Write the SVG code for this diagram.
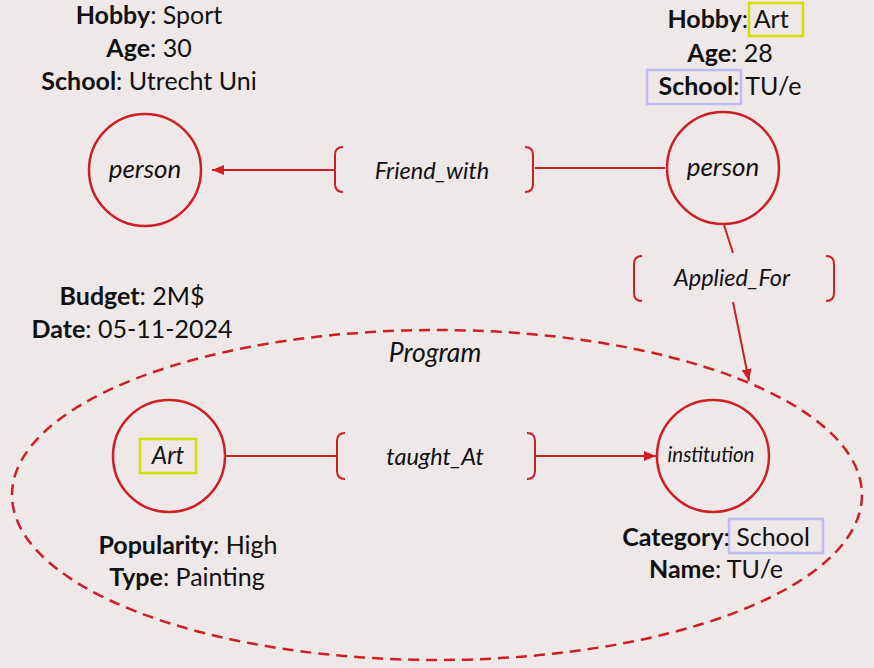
<svg xmlns="http://www.w3.org/2000/svg" width="874" height="668" viewBox="0 0 874 668">
  <defs>
    <marker id="arrow" viewBox="0 0 12 10" refX="12" refY="5" markerWidth="12" markerHeight="10" markerUnits="userSpaceOnUse" orient="auto">
      <path d="M0 0 L12 5 L0 10 Z" fill="#CC1F26"/>
    </marker>
    <style>
      text { font-family: "Lato", "Liberation Sans", sans-serif; fill: #111; }
      .attr { font-size: 25px; text-anchor: middle; }
      .attr tspan.k { font-weight: bold; }
      .lbl { font-size: 23.5px; font-style: italic; text-anchor: middle; }
      .big { font-size: 26px; }
      .small { font-size: 20.5px; }
      .node { fill: none; stroke: #CC1F26; stroke-width: 2.5; }
      .edge { fill: none; stroke: #CC1F26; stroke-width: 2; }
      .brk { fill: none; stroke: #CC1F26; stroke-width: 2; }
      .hl-y { fill: none; stroke: #D4E000; stroke-width: 2.5; }
      .hl-b { fill: none; stroke: #BDBDF2; stroke-width: 2.5; }
    </style>
  </defs>

  <rect width="874" height="668" fill="#EEE8E8"/>

  <!-- Program group boundary -->
  <g id="program">
    <ellipse cx="437" cy="495" rx="425" ry="165" fill="none" stroke="#CC1F26" stroke-width="2.5" stroke-dasharray="11 7"/>
    <text class="lbl" x="435" y="362" style="font-size:26.5px">Program</text>
    <text class="attr" x="132" y="305"><tspan class="k">Budget</tspan>: 2M$</text>
    <text class="attr" x="132" y="338"><tspan class="k">Date</tspan>: 05-11-2024</text>
  </g>

  <!-- Connectors -->
  <g id="connectors">
    <!-- Friend_with -->
    <line class="edge" x1="665" y1="168" x2="535" y2="168"/>
    <path class="brk" d="M343 147 Q335 147 335 155 V184 Q335 192 343 192"/>
    <path class="brk" d="M525 147 Q533 147 533 155 V184 Q533 192 525 192"/>
    <line class="edge" x1="334" y1="170" x2="212" y2="170" marker-end="url(#arrow)"/>
    <text class="lbl" x="432" y="179">Friend_with</text>

    <!-- Applied_For -->
    <line class="edge" x1="724" y1="225" x2="733" y2="253"/>
    <path class="brk" d="M642 256 Q634 256 634 264 V293 Q634 301 642 301"/>
    <path class="brk" d="M826 256 Q834 256 834 264 V293 Q834 301 826 301"/>
    <line class="edge" x1="733" y1="302" x2="749" y2="381" marker-end="url(#arrow)"/>
    <text class="lbl" x="732" y="286">Applied_For</text>

    <!-- taught_At -->
    <line class="edge" x1="226" y1="456" x2="337" y2="456"/>
    <path class="brk" d="M345 433 Q337 433 337 441 V471 Q337 479 345 479"/>
    <path class="brk" d="M527 433 Q535 433 535 441 V471 Q535 479 527 479"/>
    <line class="edge" x1="535" y1="456" x2="656" y2="456" marker-end="url(#arrow)"/>
    <text class="lbl" x="435" y="465">taught_At</text>
  </g>

  <!-- Person (left) -->
  <g id="person-left">
    <circle class="node" cx="145" cy="170" r="56"/>
    <text class="lbl big" x="145" y="178">person</text>
    <text class="attr" x="149" y="24"><tspan class="k">Hobby</tspan>: Sport</text>
    <text class="attr" x="149" y="57"><tspan class="k">Age</tspan>: 30</text>
    <text class="attr" x="149" y="90"><tspan class="k">School</tspan>: Utrecht Uni</text>
  </g>

  <!-- Person (right) -->
  <g id="person-right">
    <circle class="node" cx="723" cy="168" r="56"/>
    <text class="lbl big" x="723" y="176">person</text>
    <rect class="hl-y" x="749" y="3" width="54" height="33"/>
    <text class="attr" x="728" y="28"><tspan class="k">Hobby</tspan>: Art</text>
    <text class="attr" x="730" y="62"><tspan class="k">Age</tspan>: 28</text>
    <rect class="hl-b" x="647" y="70" width="94" height="34"/>
    <text class="attr" x="730" y="95"><tspan class="k">School</tspan>: TU/e</text>
  </g>

  <!-- Art -->
  <g id="art">
    <circle class="node" cx="169" cy="456" r="56"/>
    <rect class="hl-y" x="140" y="439" width="56" height="34"/>
    <text class="lbl" x="168" y="464" style="font-size:24.5px">Art</text>
    <text class="attr" x="188" y="554"><tspan class="k">Popularity</tspan>: High</text>
    <text class="attr" x="187" y="586"><tspan class="k">Type</tspan>: Painting</text>
  </g>

  <!-- Institution -->
  <g id="institution">
    <circle class="node" cx="713" cy="456" r="56"/>
    <text class="lbl small" x="711" y="462">institution</text>
    <rect class="hl-b" x="729" y="519" width="94" height="34"/>
    <text class="attr" x="716" y="546"><tspan class="k">Category</tspan>: School</text>
    <text class="attr" x="716" y="578"><tspan class="k">Name</tspan>: TU/e</text>
  </g>
</svg>
